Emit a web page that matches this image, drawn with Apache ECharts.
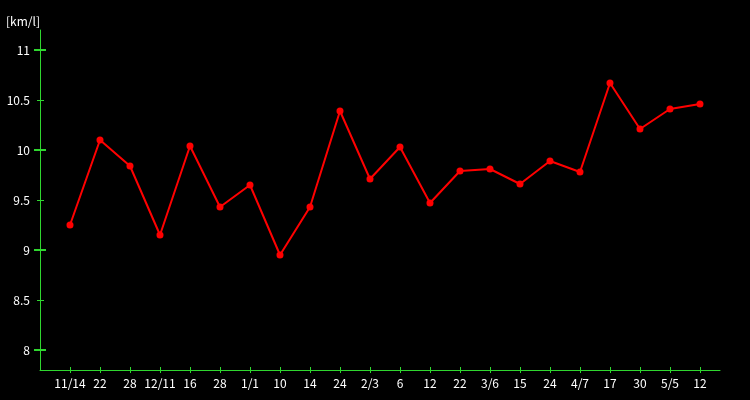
<!DOCTYPE html>
<html><head><meta charset="utf-8">
<script src="https://cdn.jsdelivr.net/npm/echarts@6/dist/echarts.min.js"></script>
<style>html,body{margin:0;padding:0;background:#000}#c{width:750px;height:400px}</style>
</head><body><div id="c"></div>
<script>
const categories = ['11/14','22','28','12/11','16','28','1/1','10','14','24','2/3','6','12','22','3/6','15','24','4/7','17','30','5/5','12'];
const values = [9.25,10.10,9.84,9.15,10.04,9.43,9.65,8.95,9.43,10.39,9.71,10.03,9.47,9.79,9.81,9.66,9.89,9.78,10.67,10.21,10.41,10.46];
const yLabels = [8,8.5,9,9.5,10,10.5,11];
const yMajor = [8,9,10,11];
const unitLabel = '[km/l]';

const green = '#2fd62f';
const font = 'Noto Sans CJK JP';
const idx = categories.map((c,i)=>i);
const data = values.map((v,i)=>[i,v]);

function xAx(inside, main){
  return {type:'value', min:-1, max:21.667, position:'bottom',
    axisLine:{show:main, onZero:false, lineStyle:{color:green,width:1}},
    splitLine:{show:false},
    axisTick:{show:true, inside:inside, length:3, customValues:idx, lineStyle:{color:green,width:1}},
    axisLabel:{show:main, customValues:idx, margin:7, color:'#fff', fontSize:12, fontFamily:font,
      formatter:(v)=>categories[Math.round(v)] ?? ''}
  };
}
function yAx(inside, vals, len, w, main){
  return {type:'value', min:7.8, max:11.2, position:'left',
    axisLine:{show:main, onZero:false, lineStyle:{color:green,width:1}},
    splitLine:{show:false},
    axisTick:{show:true, inside:inside, length:len, customValues:vals, lineStyle:{color:green,width:w}},
    axisLabel:{show:main, customValues:yLabels, margin:10, color:'#fff', fontSize:12, fontFamily:font,
      formatter:(v)=>String(v)}
  };
}
const chart = echarts.init(document.getElementById('c'));
chart.setOption({
  backgroundColor:'#000',
  animation:false,
  title:{text:unitLabel, left:1, top:10, textStyle:{color:'#fff', fontSize:12, fontWeight:'normal', fontFamily:font}},
  grid:{left:40, right:30, top:30, bottom:30},
  xAxis:[xAx(false,true), xAx(true,false)],
  yAxis:[yAx(false,yMajor,6,2,true), yAx(true,yMajor,6,2,false), yAx(false,[8.5,9.5,10.5],3,1,false), yAx(true,[8.5,9.5,10.5],4,1,false)],
  series:[{type:'line', data:data, xAxisIndex:0, yAxisIndex:0, symbol:'circle', symbolSize:7,
    lineStyle:{color:'#ff0000', width:2}, itemStyle:{color:'#ff0000'}}]
});
</script></body></html>
